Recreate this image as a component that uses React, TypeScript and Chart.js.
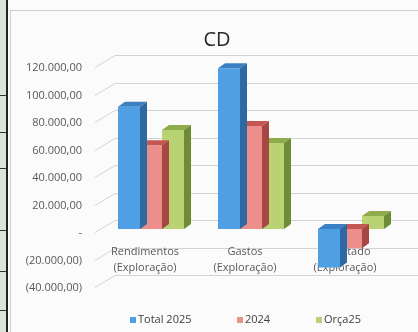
import React, { useEffect, useRef } from "react";
import { Chart, registerables } from "chart.js";
Chart.register(...registerables);

const chartTitle = "CD";
const categories = [
  ["Rendimentos", "(Exploração)"],
  ["Gastos", "(Exploração)"],
  ["Resultado", "(Exploração)"],
];
const seriesNames = ["Total 2025", "2024", "Orça25"];
const total2025 = [89000, 117000, -28000];
const values2024 = [61000, 75000, -14000];
const orca25 = [72000, 62500, 9500];
const yTicks = [-40000, -20000, 0, 20000, 40000, 60000, 80000, 100000, 120000];

const frontColors = ["#4f9fe4", "#ec8e8b", "#b8d274"];
const topColors = ["#3b7fc4", "#c45752", "#8fac4c"];
const sideColors = ["#2e69a3", "#a64743", "#6e8b37"];
const legendX = [130, 237, 316];

const FONT = "'Open Sans', 'Noto Sans', sans-serif";

function fmt(v: number): string {
  if (v === 0) return "-";
  const a = Math.abs(v);
  const s = a.toString().replace(/\B(?=(\d{3})+(?!\d))/g, ".") + ",00";
  return v < 0 ? "(" + s + ")" : s;
}

const DX = 7;
const DY = 5;

const fake3d = {
  id: "fake3d",
  beforeDatasetsDraw(chart: any) {
    const { ctx, chartArea } = chart;
    const y = chart.scales.y;
    const x = chart.scales.x;
    ctx.save();
    ctx.strokeStyle = "#d2d2d2";
    ctx.lineWidth = 1;
    yTicks.forEach((v) => {
      const py = Math.round(y.getPixelForValue(v)) + 0.5;
      ctx.beginPath();
      ctx.moveTo(chartArea.left - 6, py + 3);
      ctx.lineTo(chartArea.left + 14, py - 9);
      ctx.lineTo(chart.width, py - 9);
      ctx.stroke();
    });
    const zero = y.getPixelForValue(0);
    ctx.fillStyle = "#595959";
    ctx.font = "11px " + FONT;
    ctx.textAlign = "center";
    ctx.textBaseline = "middle";
    categories.forEach((lines, i) => {
      const cx = x.getPixelForValue(i) - 6;
      lines.forEach((t, j) => ctx.fillText(t, cx, zero + 23 + 16 * j));
    });
    ctx.restore();
  },
  afterDatasetDraw(chart: any, args: any) {
    const { ctx } = chart;
    const idx = args.index;
    ctx.save();
    args.meta.data.forEach((bar: any) => {
      const { x, y, base, width } = bar.getProps(["x", "y", "base", "width"], true);
      const l = x - width / 2;
      const r = x + width / 2;
      const top = Math.min(y, base);
      const bot = Math.max(y, base);
      ctx.fillStyle = topColors[idx];
      ctx.beginPath();
      ctx.moveTo(l, top);
      ctx.lineTo(l + DX, top - DY);
      ctx.lineTo(r + DX, top - DY);
      ctx.lineTo(r, top);
      ctx.closePath();
      ctx.fill();
      ctx.fillStyle = sideColors[idx];
      ctx.beginPath();
      ctx.moveTo(r, top);
      ctx.lineTo(r + DX, top - DY);
      ctx.lineTo(r + DX, bot - DY);
      ctx.lineTo(r, bot);
      ctx.closePath();
      ctx.fill();
    });
    ctx.restore();
  },
  afterDraw(chart: any) {
    const { ctx } = chart;
    ctx.save();
    ctx.fillStyle = "#262626";
    ctx.font = "20px " + FONT;
    ctx.textAlign = "center";
    ctx.textBaseline = "middle";
    ctx.fillText(chartTitle, 217, 40);
    ctx.font = "11px " + FONT;
    ctx.textAlign = "left";
    chart.data.datasets.forEach((ds: any, i: number) => {
      ctx.fillStyle = ds.backgroundColor;
      ctx.fillRect(legendX[i], 317, 6, 6);
      ctx.fillStyle = "#404040";
      ctx.fillText(ds.label, legendX[i] + 8, 320);
    });
    ctx.restore();
  },
};

export default function App() {
  const ref = useRef<HTMLCanvasElement>(null);
  useEffect(() => {
    if (!ref.current) return;
    const chart = new Chart(ref.current, {
      type: "bar",
      data: {
        labels: categories.map((c) => c.join(" ")),
        datasets: [total2025, values2024, orca25].map((d, i) => ({
          label: seriesNames[i],
          data: d,
          backgroundColor: frontColors[i],
          borderWidth: 0,
          categoryPercentage: 0.66,
          barPercentage: 1,
        })),
      },
      options: {
        animation: false,
        responsive: false,
        devicePixelRatio: 1,
        layout: { padding: { left: 11, right: 17, top: 64, bottom: 48 } },
        plugins: { legend: { display: false }, title: { display: false }, tooltip: { enabled: false } },
        scales: {
          x: { display: false },
          y: {
            min: -40000,
            max: 120000,
            afterBuildTicks: (s: any) => {
              s.ticks = yTicks.map((v) => ({ value: v }));
            },
            afterFit: (s: any) => {
              s.width = 90;
            },
            grid: { display: false, drawTicks: false },
            border: { display: false },
            ticks: {
              callback: (v: any) => fmt(Number(v)),
              color: "#595959",
              font: { family: FONT, size: 11 },
              padding: 19,
              labelOffset: 4,
            },
          },
        },
      },
      plugins: [fake3d],
    });
    return () => chart.destroy();
  }, []);

  const stripLines = [95, 132, 168, 230, 271, 310];
  return (
    <div style={{ position: "fixed", left: 0, top: 0, width: 418, height: 332, background: "#fbfbfb", overflow: "hidden" }}>
      <div style={{ position: "absolute", left: 0, top: 0, width: 6, height: 332, background: "#dde5da", borderRight: "2px solid #222" }}>
        {stripLines.map((t) => (
          <div key={t} style={{ position: "absolute", left: 0, top: t, width: 6, height: 1, background: "#333" }} />
        ))}
      </div>
      <div style={{ position: "absolute", left: 10, top: 10, width: 420, height: 340, border: "1px solid #cfcfcf" }} />
      <canvas ref={ref} width={418} height={332} style={{ position: "absolute", left: 0, top: 0 }} />
    </div>
  );
}
